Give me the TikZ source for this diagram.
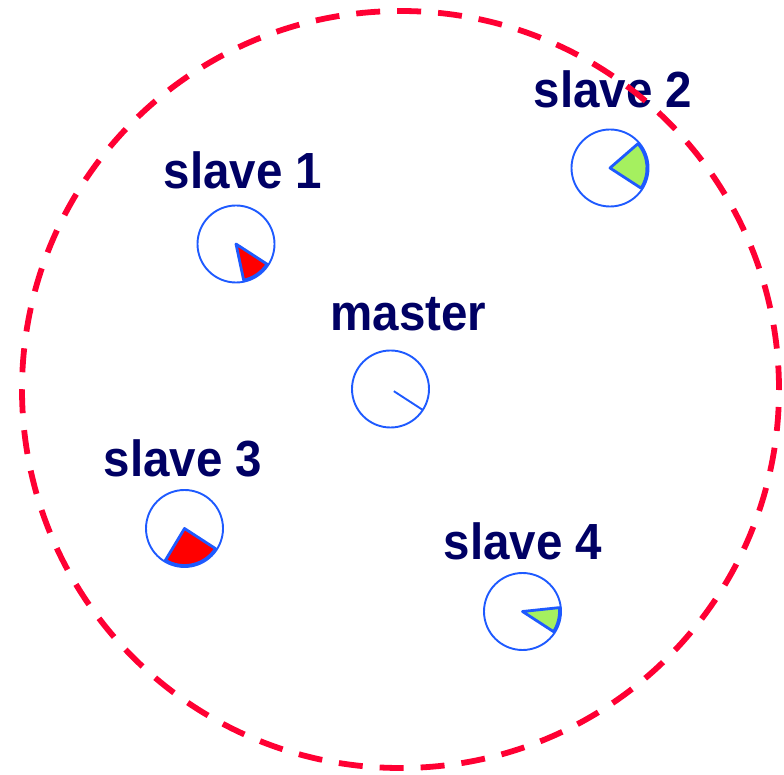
\documentclass[tikz,border=0pt]{standalone}
\usepackage{fontspec}
\setmainfont{Liberation Sans}
\usetikzlibrary{calc}
\definecolor{clockblue}{RGB}{30,90,255}
\definecolor{dashred}{RGB}{255,0,51}
\definecolor{aheadgreen}{RGB}{165,240,95}
\definecolor{labelnavy}{RGB}{0,0,100}
\newcommand{\tallbold}[1]{\scalebox{1}[1.07]{#1}}
\begin{document}
\begin{tikzpicture}[x=1pt,y=1pt,
  clock/.style={circle,draw=clockblue,line width=1.9pt,minimum size=77pt,inner sep=0pt},
  lbl/.style={anchor=base west,inner sep=0pt,text=labelnavy,font=\fontsize{47.5}{52}\selectfont\bfseries},
  wedge/.style={draw=clockblue,line width=2.8pt,line join=round},
  hand/.style={draw=clockblue,line width=1.9pt}]
\useasboundingbox (0,0) rectangle (784,774);
% clocks
\node[clock] (m) at (390.5,385) {};
\node[clock] (s1) at (236,530) {};
\node[clock] (s2) at (610,606) {};
\node[clock] (s3) at (184.5,245.5) {};
\node[clock] (s4) at (522.5,162.5) {};
% labels
\node[lbl] (lm) at (330.5,443) {\tallbold{master}};
\node[lbl] (l1) at (163.5,585.7) {\tallbold{slave 1}};
\node[lbl] (l2) at (533.5,666.7) {\tallbold{slave 2}};
\node[lbl] (l3) at (103.5,297.3) {\tallbold{slave 3}};
\node[lbl] (l4) at (443.5,214) {\tallbold{slave 4}};
% wedges
\path[wedge,fill=red] (s1.center) -- ++(-78:37) arc[start angle=-78,end angle=-33,radius=37] -- cycle;
\path[wedge,fill=aheadgreen] (s2.center) -- ++(-33:37) arc[start angle=-33,end angle=41,radius=37] -- cycle;
\path[wedge,fill=red] (s3.center) -- ++(-121:37) arc[start angle=-121,end angle=-33,radius=37] -- cycle;
\path[wedge,fill=aheadgreen] (s4.center) -- ++(-33:37) arc[start angle=-33,end angle=6,radius=37] -- cycle;
% master hand
\draw[hand] ($(m.center)+(-33:4)$) -- ($(m.center)+(-33:38)$);
% outer dashed circle
\coordinate (oc) at (400.5,384.5);
\draw[dashred,line width=5.8pt,dash pattern=on 24pt off 17pt] (oc) circle[radius=378.5];
\end{tikzpicture}
\end{document}
